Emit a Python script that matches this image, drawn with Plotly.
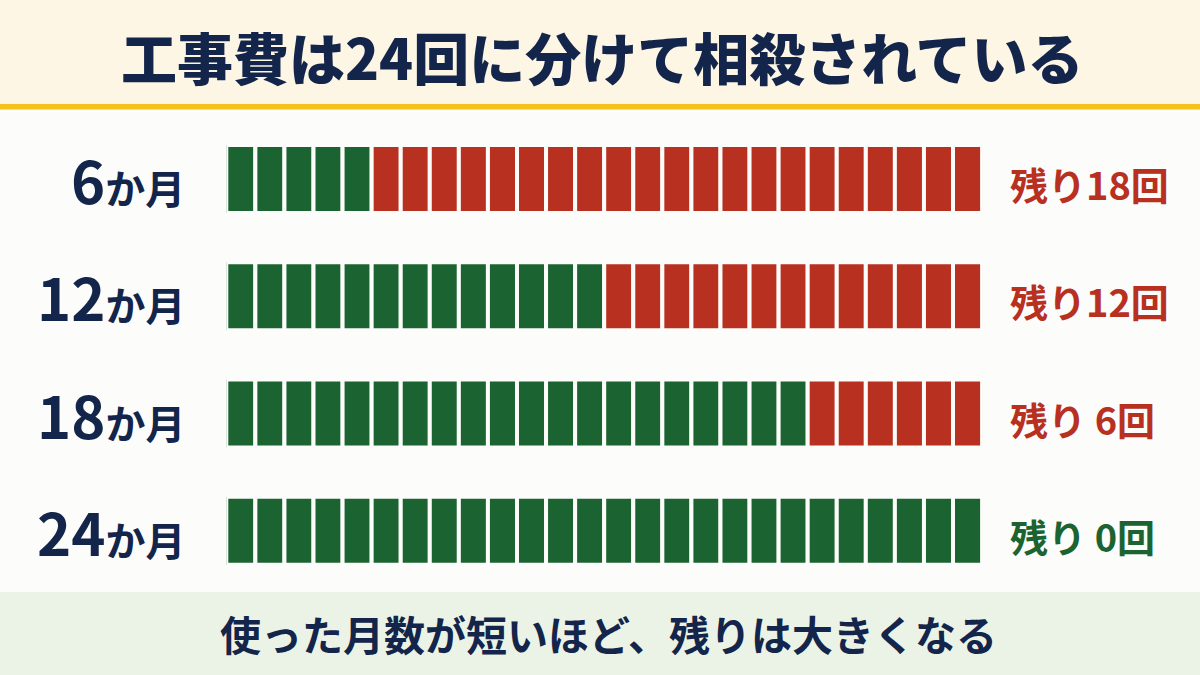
import plotly.graph_objects as go

# ---- data ----
row_months = ["6", "12", "18", "24"]
used_blocks = [5, 13, 20, 26]
remaining_blocks = [21, 13, 6, 0]
remaining_labels = ["残り18回", "残り12回", "残り 6回", "残り 0回"]
title_text = "工事費は24回に分けて相殺されている"
footer_text = "使った月数が短いほど、残りは大きくなる"

# ---- styles ----
GREEN = "#1B6330"
RED = "#B8301F"
NAVY = "#13254A"
BG = "#FCFCFA"
FONT = "Noto Sans CJK JP"
W, H = 1200, 675

rows = list(range(len(row_months)))

fig = go.Figure()

# used (green) blocks
gy, gb = [], []
for r, n in zip(rows, used_blocks):
    for i in range(n):
        gy.append(r)
        gb.append(i)
fig.add_trace(go.Bar(
    orientation="h", y=gy, x=[1] * len(gy), base=gb, width=0.58,
    marker=dict(color=GREEN, line=dict(color=BG, width=4)),
    hoverinfo="skip", showlegend=False,
))

# remaining (red) blocks
ry, rb = [], []
for r, u, n in zip(rows, used_blocks, remaining_blocks):
    for i in range(n):
        ry.append(r)
        rb.append(u + i)
fig.add_trace(go.Bar(
    orientation="h", y=ry, x=[1] * len(ry), base=rb, width=0.58,
    marker=dict(color=RED, line=dict(color=BG, width=4)),
    hoverinfo="skip", showlegend=False,
))

total = max(u + n for u, n in zip(used_blocks, remaining_blocks))

annotations = []
# row labels (left)
for r, m in zip(rows, row_months):
    annotations.append(dict(
        xref="paper", yref="y", x=187 / W, y=r, xanchor="right", yanchor="middle",
        text=f'<span style="font-size:58px">{m}</span>か月',
        showarrow=False,
        font=dict(family=FONT, size=40, color=NAVY, weight="bold"),
    ))
# remaining labels (right)
for r, lab, n in zip(rows, remaining_labels, remaining_blocks):
    annotations.append(dict(
        xref="paper", yref="y", x=1008 / W, y=r + 0.04, xanchor="left", yanchor="middle",
        text=lab, showarrow=False,
        font=dict(family=FONT, size=38, color=(RED if n > 0 else GREEN), weight="bold"),
    ))
# title
annotations.append(dict(
    xref="paper", yref="paper", x=0.502, y=1 - 56 / H, xanchor="center", yanchor="middle",
    text=title_text, showarrow=False,
    font=dict(family=FONT, size=56, color=NAVY, weight=900),
))
# footer
annotations.append(dict(
    xref="paper", yref="paper", x=0.507, y=1 - 633 / H, xanchor="center", yanchor="middle",
    text=footer_text, showarrow=False,
    font=dict(family=FONT, size=41, color=NAVY, weight="bold"),
))

shapes = [
    # title band
    dict(type="rect", xref="paper", yref="paper", x0=0, x1=1, y0=1 - 104 / H, y1=1,
         fillcolor="#FDF6E4", line_width=0, layer="below"),
    # yellow rule
    dict(type="rect", xref="paper", yref="paper", x0=0, x1=1, y0=1 - 109.5 / H, y1=1 - 104 / H,
         fillcolor="#F4C21A", line_width=0, layer="below"),
    # footer band
    dict(type="rect", xref="paper", yref="paper", x0=0, x1=1, y0=0, y1=1 - 592 / H,
         fillcolor="#EBF3E6", line_width=0, layer="below"),
]

fig.update_layout(
    width=W, height=H,
    margin=dict(l=0, r=0, t=0, b=0),
    paper_bgcolor=BG, plot_bgcolor=BG,
    barmode="overlay",
    xaxis=dict(domain=[226.3 / W, 982.1 / W], range=[0, total], visible=False, fixedrange=True),
    yaxis=dict(domain=[1 - 589.5 / H, 1 - 120.3 / H], range=[3.5, -0.5], visible=False, fixedrange=True),
    annotations=annotations,
    shapes=shapes,
    font=dict(family=FONT),
)

fig.write_html(
    "out.html",
    config={"displayModeBar": False},
    post_script="document.body.style.margin='0';document.body.style.overflow='hidden';",
)
